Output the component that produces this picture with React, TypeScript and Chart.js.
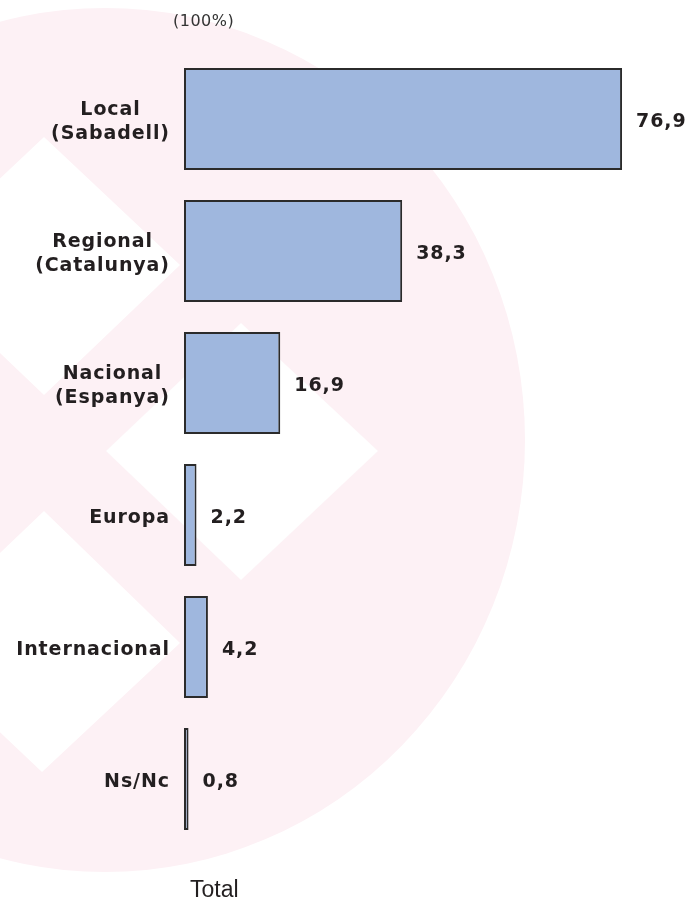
import React, { useEffect, useRef } from 'react';
import { Chart, registerables } from 'chart.js';

Chart.register(...registerables);

// ---- data ----
const categories: string[][] = [
  ['Local', '(Sabadell)'],
  ['Regional', '(Catalunya)'],
  ['Nacional', '(Espanya)'],
  ['Europa'],
  ['Internacional'],
  ['Ns/Nc'],
];
const values: number[] = [76.9, 38.3, 16.9, 2.2, 4.2, 0.8];
const valueLabels: string[] = ['76,9', '38,3', '16,9', '2,2', '4,2', '0,8'];
const unitLabel = '(100%)';
const axisTitle = 'Total';

// ---- style ----
const W = 688;
const H = 901;
const TEXT = '#231f20';
const LABEL_FONT = 'bold 19px "DejaVu Sans"';
const SPACING = 0.9;
const PINK = '#fdf1f5';

// watermark diamonds (decoration)
const diamonds: number[][][] = [
  [[44, 137], [180, 265], [44, 395], [-92, 265]],
  [[241, 323], [378, 451], [241, 580], [106, 451]],
  [[44, 511], [180, 643], [42, 772], [-94, 643]],
];

function spacedWidth(ctx: CanvasRenderingContext2D, text: string, spacing: number) {
  (ctx as any).letterSpacing = '0px';
  return ctx.measureText(text).width + spacing * (text.length - 1);
}

const backgroundPlugin = {
  id: 'watermark',
  beforeDraw(chart: any) {
    const ctx: CanvasRenderingContext2D = chart.ctx;
    ctx.save();
    ctx.fillStyle = '#ffffff';
    ctx.fillRect(0, 0, chart.width, chart.height);
    ctx.fillStyle = PINK;
    ctx.beginPath();
    ctx.ellipse(105, 440, 420, 432, 0, 0, Math.PI * 2);
    ctx.fill();
    ctx.fillStyle = '#ffffff';
    for (const d of diamonds) {
      ctx.beginPath();
      ctx.moveTo(d[0][0], d[0][1]);
      for (let k = 1; k < d.length; k++) ctx.lineTo(d[k][0], d[k][1]);
      ctx.closePath();
      ctx.fill();
    }
    ctx.restore();
  },
};

const labelsPlugin = {
  id: 'labels',
  afterDatasetsDraw(chart: any) {
    const ctx: CanvasRenderingContext2D = chart.ctx;
    const yScale = chart.scales.y;
    const area = chart.chartArea;
    ctx.save();
    ctx.fillStyle = TEXT;
    ctx.textAlign = 'left';
    ctx.textBaseline = 'middle';
    ctx.font = LABEL_FONT;

    // category labels
    categories.forEach((lines, i) => {
      const cy = yScale.getPixelForValue(i) + 3;
      const widths = lines.map((l) => spacedWidth(ctx, l, SPACING));
      const bw = Math.max(...widths);
      const right = area.left - 15;
      lines.forEach((l, j) => {
        const x = right - bw / 2 - widths[j] / 2;
        const ly = cy + (j - (lines.length - 1) / 2) * 24;
        (ctx as any).letterSpacing = SPACING + 'px';
        ctx.fillText(l, x, ly);
      });
    });

    // value labels
    const meta = chart.getDatasetMeta(0);
    meta.data.forEach((bar: any, i: number) => {
      (ctx as any).letterSpacing = SPACING + 'px';
      ctx.fillText(valueLabels[i], bar.x + 14, bar.y + 3);
    });

    // unit label
    ctx.font = '16px "DejaVu Sans"';
    ctx.fillStyle = '#333333';
    (ctx as any).letterSpacing = '0.5px';
    ctx.fillText(unitLabel, 173, 22);

    // axis title
    ctx.font = '23px "Liberation Sans"';
    ctx.fillStyle = TEXT;
    ctx.textBaseline = 'alphabetic';
    (ctx as any).letterSpacing = '0px';
    ctx.fillText(axisTitle, 190, 897);
    ctx.restore();
  },
};

export default function App() {
  const ref = useRef<HTMLCanvasElement | null>(null);
  useEffect(() => {
    if (!ref.current) return;
    const chart = new Chart(ref.current, {
      type: 'bar',
      data: {
        labels: categories.map((c) => c.join(' ')),
        datasets: [
          {
            data: values,
            backgroundColor: '#9fb7de',
            borderColor: '#2b2b2b',
            borderWidth: 2,
            borderSkipped: false,
            barPercentage: 0.773,
            categoryPercentage: 1,
          },
        ],
      },
      options: {
        indexAxis: 'y',
        animation: false,
        responsive: false,
        maintainAspectRatio: false,
        events: [],
        layout: { padding: { left: 184, right: 19.8, top: 53, bottom: 56 } },
        plugins: {
          legend: { display: false },
          tooltip: { enabled: false },
          title: { display: false },
        },
        scales: {
          x: { display: false, min: 0, max: 85 },
          y: { display: false },
        },
      },
      plugins: [backgroundPlugin, labelsPlugin],
    });
    return () => chart.destroy();
  }, []);
  return (
    <canvas
      ref={ref}
      width={W}
      height={H}
      style={{ position: 'fixed', left: 0, top: 0, width: W, height: H, display: 'block' }}
    />
  );
}
